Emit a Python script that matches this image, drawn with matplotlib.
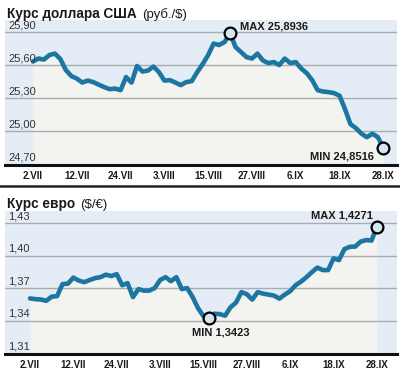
import matplotlib
matplotlib.use("Agg")
import matplotlib.pyplot as plt
from matplotlib.lines import Line2D
from matplotlib.transforms import blended_transform_factory

# --- data (trading days 2.VII .. 28.IX, 65 points) ---
usd = [25.635, 25.662, 25.653, 25.694, 25.707, 25.657, 25.557, 25.503, 25.480, 25.444,
       25.462, 25.448, 25.425, 25.403, 25.384, 25.389, 25.375, 25.494, 25.444, 25.594,
       25.544, 25.553, 25.589, 25.539, 25.462, 25.466, 25.444, 25.421, 25.448, 25.457,
       25.539, 25.612, 25.694, 25.798, 25.785, 25.812, 25.8936, 25.766, 25.721, 25.675,
       25.662, 25.707, 25.644, 25.621, 25.630, 25.603, 25.662, 25.621, 25.630, 25.571,
       25.530, 25.466, 25.375, 25.362, 25.357, 25.348, 25.325, 25.203, 25.066, 25.030,
       24.980, 24.948, 24.980, 24.948, 24.8516]

eur = [1.3608, 1.3601, 1.3598, 1.3586, 1.3624, 1.3629, 1.3740, 1.3744, 1.3800, 1.3772,
       1.3758, 1.3777, 1.3795, 1.3804, 1.3827, 1.3814, 1.3832, 1.3730, 1.3749, 1.3620,
       1.3694, 1.3680, 1.3680, 1.3703, 1.3777, 1.3804, 1.3767, 1.3804, 1.3694, 1.3703,
       1.3620, 1.3518, 1.3444, 1.3423, 1.3467, 1.3463, 1.3449, 1.3527, 1.3569, 1.3666,
       1.3647, 1.3597, 1.3666, 1.3652, 1.3643, 1.3634, 1.3606, 1.3643, 1.3675, 1.3730,
       1.3763, 1.3804, 1.3850, 1.3892, 1.3869, 1.3869, 1.3977, 1.3961, 1.4063, 1.4084,
       1.4086, 1.4132, 1.4146, 1.4141, 1.4271]

date_labels = ["2.VII", "12.VII", "24.VII", "3.VIII", "15.VIII", "27.VIII", "6.IX", "18.IX", "28.IX"]
date_pos = [0, 8, 16, 24, 32, 40, 48, 56, 64]

usd_ticks = [24.70, 25.00, 25.30, 25.60, 25.90]
eur_ticks = [1.31, 1.34, 1.37, 1.40, 1.43]

# --- style ---
BG = "#e4edf5"
FILL = "#f3f4ef"
LINE = "#1d76a1"
GRID = "#a9acaf"
TXT = "#1a1a1a"
plt.rcParams["font.family"] = ["Liberation Sans", "DejaVu Sans"]
NARROW = ["Liberation Sans Narrow", "Liberation Sans", "DejaVu Sans"]

W, H = 400, 371
fig = plt.figure(figsize=(W / 100, H / 100), dpi=100)
fig.patch.set_facecolor("white")


def px_axes(x0, y0, x1, y1):
    # pixel box (top-left origin) -> axes
    return fig.add_axes([x0 / W, 1 - y1 / H, (x1 - x0) / W, (y1 - y0) / H])


def fx(x):
    return x / W


def fy(y):
    return 1 - y / H


def comma(v, n):
    return f"{v:.{n}f}".replace(".", ",")


def panel(ax, vals, ticks, xlim, ylim):
    xs = list(range(len(vals)))
    ax.set_facecolor(BG)
    ax.set_xlim(*xlim)
    ax.set_ylim(*ylim)
    for t in ticks[1:]:
        ax.axhline(t, color=GRID, lw=1.0, zorder=2)
    ax.fill_between(xs, vals, ylim[0], color=FILL, lw=0, zorder=1)
    ax.plot(xs, vals, color=LINE, lw=3.3, solid_joinstyle="round",
            solid_capstyle="round", zorder=3)
    trans = blended_transform_factory(ax.transAxes, ax.transData)
    for t in ticks:
        ax.annotate(comma(t, 2), xy=(0.008, t), xycoords=trans, xytext=(0, 1.5),
                    textcoords="offset points", ha="left", va="bottom",
                    fontsize=8, color="#333333", zorder=4)
    for s in ["top", "left", "right"]:
        ax.spines[s].set_visible(False)
    ax.spines["bottom"].set_linewidth(2.2)
    ax.spines["bottom"].set_color("#111111")
    ax.set_xticks(date_pos)
    ax.set_xticklabels(date_labels, fontsize=7, fontweight="bold",
                       family=NARROW, color=TXT)
    ax.tick_params(axis="x", length=0, pad=5)
    ax.set_yticks([])


def marker(ax, x, y):
    ax.plot([x], [y], "o", ms=8.5, mfc="#d5e5f1", mec="black", mew=1.6,
            zorder=5, clip_on=False)


def title(y, bold, normal):
    t = fig.text(fx(7), fy(y), bold, fontsize=9.8, fontweight="bold",
                 color=TXT, ha="left", va="baseline")
    bb = t.get_window_extent(renderer=fig.canvas.get_renderer())
    fig.text(fx(bb.x1 + 5), fy(y), normal, fontsize=9.5, color=TXT,
             ha="left", va="baseline")


# top panel: USD/RUB
ax1 = px_axes(5, 20, 397, 164.5)
panel(ax1, usd, usd_ticks, (-5.12, 66.5), (24.70, 26.012))
i_max = usd.index(max(usd))
i_min = usd.index(min(usd))
marker(ax1, i_max, usd[i_max])
marker(ax1, i_min, usd[i_min])
ax1.annotate("MAX " + comma(usd[i_max], 4), xy=(i_max, usd[i_max]),
             xytext=(7, 1), textcoords="offset points", ha="left", va="bottom",
             fontsize=8, fontweight="bold", family=NARROW, color=TXT)
ax1.annotate("MIN " + comma(usd[i_min], 4), xy=(i_min, usd[i_min]),
             xytext=(-7, -6), textcoords="offset points", ha="right", va="center",
             fontsize=8, fontweight="bold", family=NARROW, color=TXT)

# bottom panel: EUR/USD
ax2 = px_axes(5, 211, 397, 353.5)
panel(ax2, eur, eur_ticks, (-4.61, 67.7), (1.31, 1.4414))
j_max = eur.index(max(eur))
j_min = eur.index(min(eur))
marker(ax2, j_max, eur[j_max])
marker(ax2, j_min, eur[j_min])
ax2.annotate("MAX " + comma(eur[j_max], 4), xy=(j_max, eur[j_max]),
             xytext=(-3, 4), textcoords="offset points", ha="right", va="bottom",
             fontsize=8, fontweight="bold", family=NARROW, color=TXT)
ax2.annotate("MIN " + comma(eur[j_min], 4), xy=(j_min, eur[j_min]),
             xytext=(-12, -10), textcoords="offset points", ha="left", va="center",
             fontsize=8, fontweight="bold", family=NARROW, color=TXT)

# titles
fig.canvas.draw()
title(18, "Курс доллара США", "(руб./$)")
title(208, "Курс евро", "($/€)")

# separator between the panels
fig.add_artist(Line2D([0, 1], [fy(185.5), fy(185.5)], color="#222222", lw=1.8))

fig.savefig("out.png", dpi=100, facecolor="white")
